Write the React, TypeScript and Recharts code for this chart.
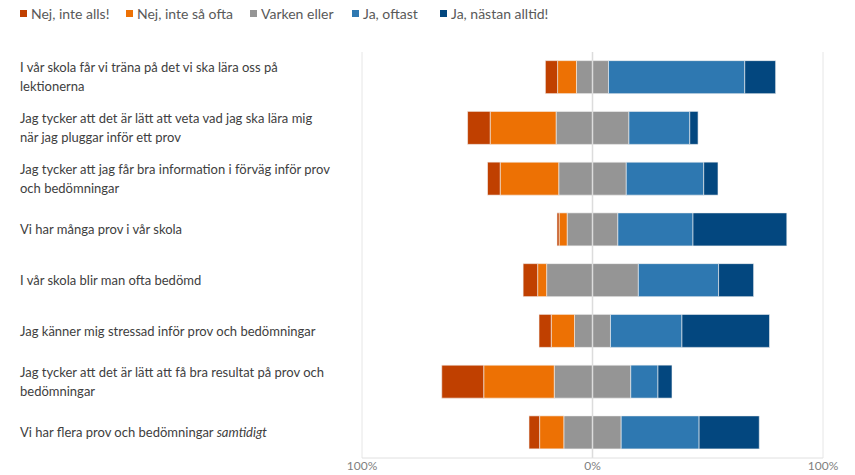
import { BarChart, Bar, XAxis, YAxis, CartesianGrid, ReferenceLine } from 'recharts';

const CATEGORIES = [
  'I vår skola får vi träna på det vi ska lära oss på\nlektionerna',
  'Jag tycker att det är lätt att veta vad jag ska lära mig\nnär jag pluggar inför ett prov',
  'Jag tycker att jag får bra information i förväg inför prov\noch bedömningar',
  'Vi har många prov i vår skola',
  'I vår skola blir man ofta bedömd',
  'Jag känner mig stressad inför prov och bedömningar',
  'Jag tycker att det är lätt att få bra resultat på prov och\nbedömningar',
  'Vi har flera prov och bedömningar *samtidigt*',
];

// andel svar i procent per påstående
const NEJ_INTE_ALLS = [5.3, 9.8, 5.5, 0.9, 6.3, 5.3, 18.2, 4.6];
const NEJ_INTE_SA_OFTA = [8.2, 28.6, 25.4, 3.5, 3.9, 10.1, 30.6, 10.5];
const VARKEN_ELLER = [13.9, 31.6, 29.3, 22.0, 39.8, 15.6, 33.2, 24.9];
const JA_OFTAST = [59.1, 26.4, 33.6, 32.6, 34.8, 31.0, 11.8, 33.8];
const JA_NASTAN_ALLTID = [13.4, 3.6, 6.2, 40.7, 15.2, 38.0, 6.1, 26.1];

const X_TICKS = [-100, 0, 100];

const LEGEND = [
  { label: 'Nej, inte alls!', color: '#c04000' },
  { label: 'Nej, inte så ofta', color: '#ed7104' },
  { label: 'Varken eller', color: '#959595' },
  { label: 'Ja, oftast', color: '#2e78b1' },
  { label: 'Ja, nästan alltid!', color: '#03477f' },
];
const LEGEND_LEFT = [20, 126, 250, 352, 440];

const FONT = 'Lato, "Open Sans", sans-serif';

const data = CATEGORIES.map((name, i) => ({
  name,
  varkenNeg: -VARKEN_ELLER[i] / 2,
  ofta: -NEJ_INTE_SA_OFTA[i],
  alls: -NEJ_INTE_ALLS[i],
  varkenPos: VARKEN_ELLER[i] / 2,
  oftast: JA_OFTAST[i],
  alltid: JA_NASTAN_ALLTID[i],
}));

function CategoryTick({ y, payload }: any) {
  const lines: string[] = String(payload.value).split('\n');
  const start = -((lines.length - 1) * 19) / 2;
  return (
    <text x={20} y={y} textAnchor="start" fill="#404040" fontSize={13} fontFamily={FONT}>
      {lines.map((line, li) => {
        const parts = line.split('*');
        return parts.map((p, pi) => (
          <tspan
            key={li + '-' + pi}
            x={pi === 0 ? 20 : undefined}
            dy={pi === 0 ? (li === 0 ? start + 4.5 : 19) : undefined}
            fontStyle={pi % 2 === 1 ? 'italic' : 'normal'}
          >
            {p}
          </tspan>
        ));
      })}
    </text>
  );
}

export default function App() {
  return (
    <div style={{ position: 'absolute', left: 0, top: 0, width: 855, height: 475, background: '#fff' }}>
      {LEGEND.map((l, i) => (
        <div
          key={l.label}
          style={{
            position: 'absolute', left: LEGEND_LEFT[i], top: 5, display: 'flex', alignItems: 'center',
            fontFamily: FONT, fontSize: 14, color: '#595959', whiteSpace: 'nowrap',
          }}
        >
          <span style={{ width: 7, height: 7, background: l.color, marginRight: 4, display: 'inline-block' }} />
          {l.label}
        </div>
      ))}
      <BarChart
        width={855}
        height={475}
        data={data}
        layout="vertical"
        stackOffset="sign"
        barCategoryGap="17%"
        margin={{ top: 52, right: 32, bottom: 0, left: 0 }}
      >
        <CartesianGrid horizontal={false} stroke="#e6e6e6" />
        <XAxis
          type="number"
          domain={[-100, 100]}
          ticks={X_TICKS}
          tickFormatter={(v: number) => Math.abs(v) + '%'}
          axisLine={{ stroke: '#e0e0e0' }}
          tickLine={false}
          tickSize={0}
          tickMargin={3}
          height={17}
          tick={{ fontSize: 12, fill: '#7f7f7f', fontFamily: FONT }}
        />
        <YAxis
          type="category"
          dataKey="name"
          width={362}
          axisLine={false}
          tickLine={false}
          tick={<CategoryTick />}
        />
        <Bar dataKey="varkenNeg" stackId="a" fill="#959595" stroke="#f4f4f4" strokeWidth={0.6} isAnimationActive={false} />
        <Bar dataKey="ofta" stackId="a" fill="#ed7104" stroke="#f4f4f4" strokeWidth={0.6} isAnimationActive={false} />
        <Bar dataKey="alls" stackId="a" fill="#c04000" stroke="#f4f4f4" strokeWidth={0.6} isAnimationActive={false} />
        <Bar dataKey="varkenPos" stackId="a" fill="#959595" stroke="#f4f4f4" strokeWidth={0.6} isAnimationActive={false} />
        <Bar dataKey="oftast" stackId="a" fill="#2e78b1" stroke="#f4f4f4" strokeWidth={0.6} isAnimationActive={false} />
        <Bar dataKey="alltid" stackId="a" fill="#03477f" stroke="#f4f4f4" strokeWidth={0.6} isAnimationActive={false} />
        <ReferenceLine x={0} stroke="#dcdcdc" strokeWidth={1.5} />
      </BarChart>
    </div>
  );
}
